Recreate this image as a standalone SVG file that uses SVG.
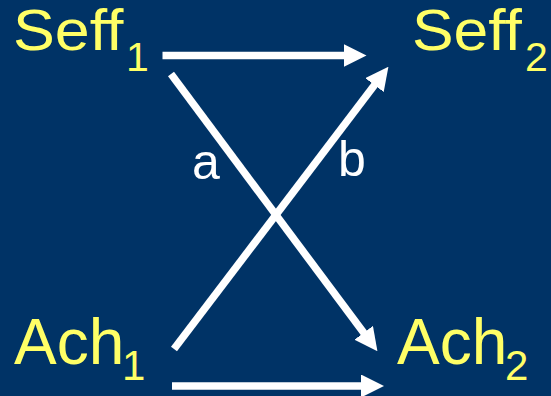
<svg xmlns="http://www.w3.org/2000/svg" width="551" height="396" viewBox="0 0 551 396">
<style>
.node{font-family:"Liberation Sans",Arial,sans-serif;fill:#FFFF66}
.lbl{font-family:"Liberation Sans",Arial,sans-serif;fill:#FFFFFF;font-size:50px}
.edge{stroke:#FFFFFF;stroke-width:7.5;fill:none;marker-end:url(#ah)}
</style>
<defs>
<marker id="ah" viewBox="0 0 23 23" refX="1" refY="11.5" markerWidth="23" markerHeight="23" markerUnits="userSpaceOnUse" orient="auto">
<path d="M0,0 L23,11.5 L0,23 z" fill="#FFFFFF"/>
</marker>
</defs>
<rect width="551" height="396" fill="#003366"/>
<g id="seff1" class="node"><text x="0" y="0" font-size="57" transform="translate(13,50) scale(1.1,1)">Seff</text><text x="126" y="71" font-size="41">1</text></g>
<g id="seff2" class="node"><text x="0" y="0" font-size="57" transform="translate(412,50) scale(1.095,1)">Seff</text><text x="525" y="71" font-size="41">2</text></g>
<g id="ach1" class="node"><text x="14" y="364" font-size="64">Ach</text><text x="122" y="380" font-size="42">1</text></g>
<g id="ach2" class="node"><text x="397" y="364" font-size="64">Ach</text><text x="505" y="380" font-size="42">2</text></g>
<g id="connectors">
<line class="edge" x1="162.5" y1="55.5" x2="344.5" y2="55.5"/>
<line class="edge" x1="172" y1="386" x2="362" y2="386"/>
<line class="edge" x1="171" y1="74" x2="364.3" y2="333.6"/>
<line class="edge" x1="174" y1="349" x2="375.1" y2="84.3"/>
<text class="lbl" x="192" y="179">a</text>
<text class="lbl" x="338" y="176">b</text>
</g>
</svg>
